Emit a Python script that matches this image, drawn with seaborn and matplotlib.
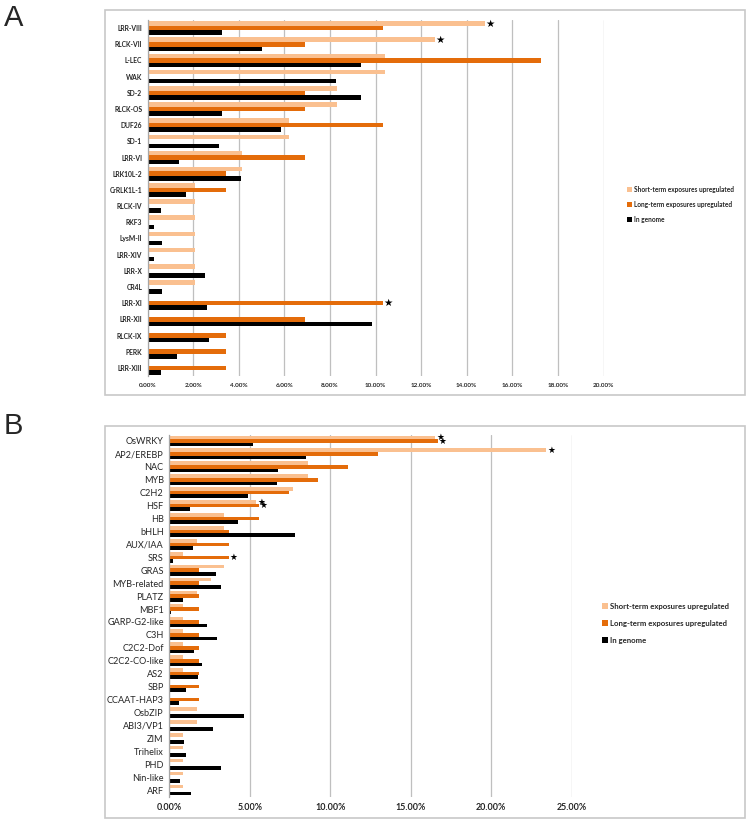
import pandas as pd
import numpy as np
import matplotlib
matplotlib.use('Agg')
import matplotlib.pyplot as plt
from matplotlib.patches import Rectangle, Patch
from matplotlib.ticker import PercentFormatter, FixedLocator
import seaborn as sns

# Panel A - receptor-like kinase families (% of genes)
a_categories = ['LRR-VIII', 'RLCK-VII', 'L-LEC', 'WAK', 'SD-2', 'RLCK-OS', 'DUF26', 'SD-1',
                'LRR-VI', 'LRK10L-2', 'CrRLK1L-1', 'RLCK-IV', 'RKF3', 'LysM-II', 'LRR-XIV',
                'LRR-X', 'CR4L', 'LRR-XI', 'LRR-XII', 'RLCK-IX', 'PERK', 'LRR-XIII']
a_short = [14.8, 12.6, 10.4, 10.4, 8.3, 8.3, 6.2, 6.2, 4.15, 4.15, 2.07, 2.07, 2.07, 2.07,
           2.07, 2.07, 2.07, 0, 0, 0, 0, 0]
a_long = [10.34, 6.9, 17.24, 0, 6.9, 6.9, 10.34, 0, 6.9, 3.45, 3.45, 0, 0, 0, 0, 0, 0,
          10.34, 6.9, 3.45, 3.45, 3.45]
a_genome = [3.24, 5.02, 9.37, 8.28, 9.37, 3.24, 5.84, 3.14, 1.39, 4.09, 1.66, 0.57, 0.29,
            0.64, 0.29, 2.51, 0.64, 2.61, 9.85, 2.69, 1.30, 0.57]
a_stars = [('LRR-VIII', 0), ('RLCK-VII', 0), ('LRR-XI', 1)]

# Panel B - transcription factor families (% of genes)
b_categories = ['OsWRKY', 'AP2/EREBP', 'NAC', 'MYB', 'C2H2', 'HSF', 'HB', 'bHLH', 'AUX/IAA',
                'SRS', 'GRAS', 'MYB-related', 'PLATZ', 'MBF1', 'GARP-G2-like', 'C3H',
                'C2C2-Dof', 'C2C2-CO-like', 'AS2', 'SBP', 'CCAAT-HAP3', 'OsbZIP', 'ABI3/VP1',
                'ZIM', 'Trihelix', 'PHD', 'Nin-like', 'ARF']
b_short = [16.5, 23.4, 8.6, 8.6, 7.7, 5.4, 3.42, 3.42, 1.71, 0.85, 3.42, 2.56, 1.71, 0.85,
           0.85, 0.85, 0.85, 0.85, 0.85, 0, 0, 1.71, 1.71, 0.85, 0.85, 0.85, 0.85, 0.85]
b_long = [16.67, 12.96, 11.11, 9.26, 7.41, 5.56, 5.56, 3.70, 3.70, 3.70, 1.85, 1.85, 1.85,
          1.85, 1.85, 1.85, 1.85, 1.85, 1.85, 1.85, 1.85, 0, 0, 0, 0, 0, 0, 0]
b_genome = [5.2, 8.5, 6.75, 6.7, 4.9, 1.27, 4.25, 7.8, 1.48, 0.23, 2.88, 3.2, 0.83, 0.1,
            2.35, 2.96, 1.54, 2.02, 1.79, 1.02, 0.62, 4.65, 2.69, 0.94, 1.02, 3.2, 0.67, 1.35]
b_stars = [('OsWRKY', 0), ('OsWRKY', 1), ('AP2/EREBP', 0), ('HSF', 0), ('HSF', 1), ('SRS', 1)]

series = ['Short-term exposures upregulated', 'Long-term exposures upregulated', 'In genome']
colors = ['#FAC090', '#E46C0A', '#000000']

sns.set_theme(style='white')
plt.rcParams['font.family'] = ['Lato', 'DejaVu Sans']

W, H = 750, 823
fig = plt.figure(figsize=(W / 100, H / 100), dpi=100)


def fbox(x0, y0, x1, y1):
    # pixel box -> figure fraction [left, bottom, width, height]
    return [x0 / W, 1 - y1 / H, (x1 - x0) / W, (y1 - y0) / H]


def draw_panel(rect, cats, short, long, genome, stars, xmax, step, ylab_fs, ylab_w,
               xlab_fs, xlab_w, star_fs):
    df = pd.DataFrame({'category': cats, series[0]: short, series[1]: long, series[2]: genome})
    df = df.melt(id_vars='category', var_name='series', value_name='value')
    ax = fig.add_axes(rect)
    sns.barplot(data=df, x='value', y='category', hue='series', hue_order=series,
                palette=colors, orient='h', width=0.84, saturation=1, legend=False,
                linewidth=0, ax=ax)
    ax.set_xlim(0, xmax)
    ax.set_ylim(len(cats) - 0.5, -0.5)
    ax.set_xticks(np.arange(0, xmax + 0.001, step))
    ax.xaxis.set_major_formatter(PercentFormatter(100, decimals=2))
    ax.grid(axis='x', color='#BFBFBF', lw=0.9)
    ax.set_axisbelow(True)
    for s in ['top', 'right', 'bottom']:
        ax.spines[s].set_visible(False)
    ax.spines['left'].set_color('#A6A6A6')
    ax.spines['left'].set_linewidth(0.9)
    ax.set_xlabel('')
    ax.set_ylabel('')
    ax.tick_params(axis='x', length=0, pad=5, labelsize=xlab_fs, labelcolor='#262626')
    ax.tick_params(axis='y', length=0, pad=4, labelsize=ylab_fs, labelcolor='#262626')
    for t in ax.get_xticklabels():
        t.set_fontweight(xlab_w)
    for t in ax.get_yticklabels():
        t.set_fontweight(ylab_w)
    ax.yaxis.set_minor_locator(FixedLocator(np.arange(-0.5, len(cats), 1)))
    ax.tick_params(axis='y', which='minor', length=2.5, width=0.7, color='#A6A6A6')
    # stars next to significant bars
    for cat, si in stars:
        bar = ax.containers[si][cats.index(cat)]
        yc = bar.get_y() + bar.get_height() / 2
        ax.annotate('★', xy=(bar.get_width(), yc), xytext=(5, 0), textcoords='offset pixels',
                    ha='center', va='center', fontsize=star_fs, family=['DejaVu Sans'],
                    color='black')
    return ax


# frames
for (x0, y0, x1, y1) in [(105, 10, 745, 395), (105, 426, 745, 818)]:
    fig.add_artist(Rectangle((x0 / W, 1 - y1 / H), (x1 - x0) / W, (y1 - y0) / H,
                             transform=fig.transFigure, fill=False, ec='#C8C8C8', lw=1.2))

axA = draw_panel(fbox(147.7, 20, 603.5, 376), a_categories, a_short, a_long, a_genome,
                 a_stars, 20, 2, 4.9, 'bold', 4.6, 'bold', 7.5)
axB = draw_panel(fbox(169.3, 434.5, 571.7, 796.5), b_categories, b_short, b_long, b_genome,
                 b_stars, 25, 5, 6.6, 'normal', 6.4, 'bold', 6.3)

handles = [Patch(facecolor=c, edgecolor='none') for c in colors]
fig.legend(handles, series, loc='upper left', bbox_to_anchor=(624 / W, 1 - 183 / H),
           frameon=False, prop={'size': 4.7, 'weight': 'bold'}, handlelength=0.8,
           handleheight=0.8, handletextpad=0.3, labelspacing=1.2, borderpad=0)
fig.legend(handles, series, loc='upper left', bbox_to_anchor=(598 / W, 1 - 599 / H),
           frameon=False, prop={'size': 5.6, 'weight': 'bold'}, handlelength=0.8,
           handleheight=0.8, handletextpad=0.3, labelspacing=1.3, borderpad=0)

fig.text(4 / W, 1 - 4 / H, 'A', fontsize=21, family=['Liberation Sans'], va='top', ha='left')
fig.text(4 / W, 1 - 412 / H, 'B', fontsize=21, family=['Liberation Sans'], va='top', ha='left')

fig.savefig('out.png', dpi=100)
